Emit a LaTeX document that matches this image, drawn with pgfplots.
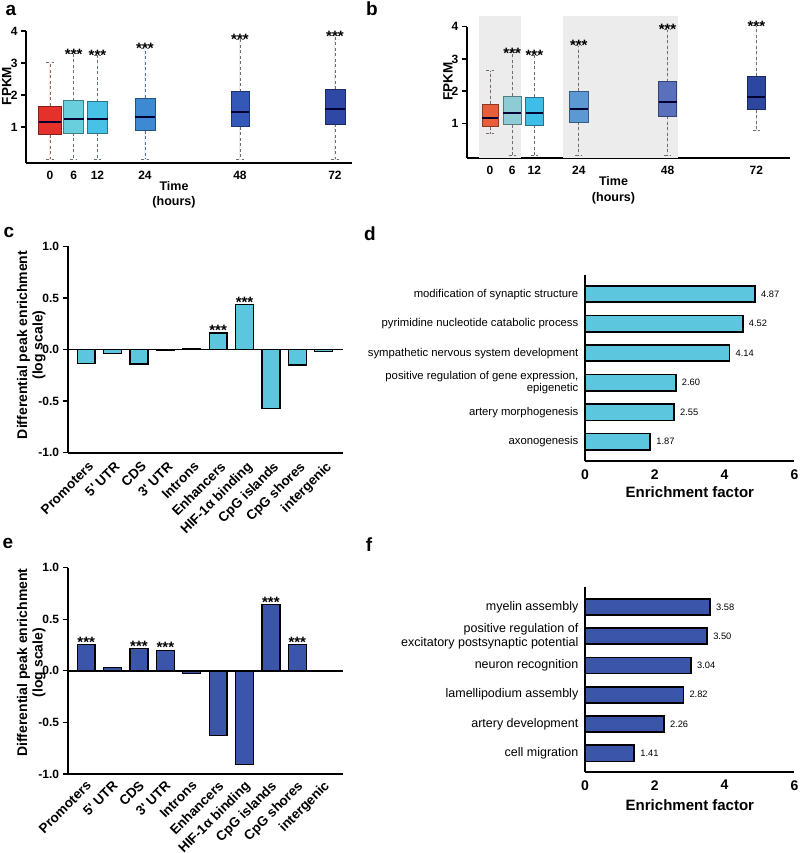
\documentclass[border=0pt]{standalone}
\usepackage{fontspec}
\setmainfont{Liberation Sans}
\usepackage{pgfplots}
\pgfplotsset{compat=1.18}
\usepgfplotslibrary{statistics}

\definecolor{aA}{HTML}{E5312B}
\definecolor{aB}{HTML}{6ACFDC}
\definecolor{aC}{HTML}{47C1E6}
\definecolor{aD}{HTML}{3D8AD2}
\definecolor{aE}{HTML}{3358B8}
\definecolor{aF}{HTML}{2F48A6}
\definecolor{bA}{HTML}{E65F3A}
\definecolor{bB}{HTML}{8ECCD5}
\definecolor{bC}{HTML}{3EBDE6}
\definecolor{bD}{HTML}{5B98D4}
\definecolor{bE}{HTML}{5A70BC}
\definecolor{bF}{HTML}{2D47A0}
\definecolor{cyanbar}{HTML}{5BC6DD}
\definecolor{bluebar}{HTML}{3A55A9}
\definecolor{bgshade}{HTML}{ECECEC}
\definecolor{whisk}{HTML}{6E6E6E}

\tikzset{stars/.style={font=\bfseries\fontsize{15}{15}\selectfont, anchor=base}}

\pgfplotsset{
  base/.style={scale only axis, axis lines=left,
    axis line style={-, line width=2pt},
    every outer x axis line/.append style={-},
    every outer y axis line/.append style={-},
    clip=false, tick style={black, line width=1.3pt},
    major tick length=5pt, tick align=outside,
    xtick style={draw=none}},
  bx/.style={fill=#1, draw=whisk, line width=0.9pt,
    boxplot/every box/.style={draw=#1!60!black, line width=0.7pt}},
  boxes/.style={base,
    boxplot/draw direction=y,
    ticklabel style={font=\bfseries\fontsize{12}{14}\selectfont},
    xtick={0,6,12,24,48,72}, xticklabels={0,6,12,24,48,72},
    ytick={1,2,3,4}, yticklabels={1,2,3,4},
    ylabel={FPKM},
    ylabel style={anchor=center, font=\bfseries\fontsize{13.5}{16}\selectfont},
    xlabel={Time\\(hours)},
    xlabel style={anchor=center, align=center, font=\bfseries\fontsize{12.5}{15.5}\selectfont},
    boxplot/every whisker/.style={dash pattern=on 3pt off 2.5pt},
    boxplot/every median/.style={draw=black!80!blue, line width=2pt, solid}},
  bars/.style={base, ybar, bar width=0.68,
    width=275pt, height=206.4pt,
    xmin=-0.7, xmax=9.72, ymin=-1, ymax=1,
    ytick={-1,-0.5,0,0.5,1}, yticklabels={-1.0,-0.5,0.0,0.5,1.0},
    yticklabel style={font=\bfseries\fontsize{12}{14}\selectfont},
    xtick={0,...,9},
    xticklabels={Promoters,5\textquotesingle{} UTR,CDS,3\textquotesingle{} UTR,Introns,Enhancers,HIF-1α binding,CpG islands,CpG shores,intergenic},
    xticklabel style={font=\bfseries\fontsize{13.5}{15}\selectfont, rotate=45, anchor=north east, inner sep=1pt},
    ylabel={Differential peak enrichment\\(log scale)},
    ylabel style={anchor=center, align=center, font=\bfseries\fontsize{14}{15.5}\selectfont}},
  hbars/.style={base, xbar, bar width=0.55,
    width=209.4pt, xmin=0, xmax=6,
    xtick={0,2,4,6}, xticklabels={0,2,4,6},
    xticklabel style={font=\bfseries\fontsize{14}{16}\selectfont},
    ytick={0,...,5}, ytick style={draw=none},
    yticklabel style={align=right, inner sep=1.5pt},
    xlabel={Enrichment factor},
    xlabel style={anchor=center, font=\bfseries\fontsize{15}{18}\selectfont}}
}

\begin{document}
\begin{tikzpicture}[x=1pt,y=1pt]
\useasboundingbox (0,0) rectangle (800,853);

% ---------------- panel a ----------------
\begin{axis}[boxes, at={(26pt,690pt)}, anchor=south west,
  width=326pt, height=132pt,
  xmin=-6.06, xmax=76.3, ymin=-0.12, ymax=4,
  ylabel style={at={(axis description cs:-0.059,0.583)}},
  xlabel style={at={(axis description cs:0.454,-0.242)}}]
\addplot[bx=aA, boxplot prepared={draw position=0, lower whisker=0, lower quartile=0.76, median=1.15, upper quartile=1.66, upper whisker=3.01, box extend=5.8, whisker extend=1.8}] coordinates {};
\addplot[bx=aB, boxplot prepared={draw position=6, lower whisker=0, lower quartile=0.82, median=1.24, upper quartile=1.82, upper whisker=3.29, box extend=5.1, whisker extend=1.8}] coordinates {};
\addplot[bx=aC, boxplot prepared={draw position=12, lower whisker=0, lower quartile=0.82, median=1.24, upper quartile=1.79, upper whisker=3.25, box extend=5.1, whisker extend=1.8}] coordinates {};
\addplot[bx=aD, boxplot prepared={draw position=24, lower whisker=0, lower quartile=0.89, median=1.31, upper quartile=1.91, upper whisker=3.45, box extend=5.1, whisker extend=1.8}] coordinates {};
\addplot[bx=aE, boxplot prepared={draw position=48, lower whisker=0, lower quartile=1.01, median=1.47, upper quartile=2.11, upper whisker=3.75, box extend=4.6, whisker extend=1.8}] coordinates {};
\addplot[bx=aF, boxplot prepared={draw position=72, lower whisker=0, lower quartile=1.10, median=1.56, upper quartile=2.18, upper whisker=3.85, box extend=5.1, whisker extend=1.8}] coordinates {};
\node[stars, yshift=-5.3pt] at (axis cs:6,3.29) {***};
\node[stars, yshift=-5.3pt] at (axis cs:12,3.25) {***};
\node[stars, yshift=-5.3pt] at (axis cs:24,3.45) {***};
\node[stars, yshift=-5.3pt] at (axis cs:48,3.75) {***};
\node[stars, yshift=-5.3pt] at (axis cs:72,3.85) {***};
\end{axis}

% ---------------- panel b ----------------
\begin{axis}[boxes, at={(466.7pt,695pt)}, anchor=south west,
  width=323.3pt, height=131.3pt,
  xmin=-6.3, xmax=81.1, ymin=-0.078, ymax=4,
  ylabel style={at={(axis description cs:-0.058,0.581)}},
  xlabel style={at={(axis description cs:0.454,-0.244)}}]
\fill[bgshade] (axis cs:-3,-0.078) rectangle (axis cs:8.3,4.34);
\fill[bgshade] (axis cs:19.6,-0.078) rectangle (axis cs:50.7,4.34);
\addplot[bx=bA, boxplot prepared={draw position=0, lower whisker=0.67, lower quartile=0.89, median=1.16, upper quartile=1.59, upper whisker=2.63, box extend=4.3, whisker extend=1.9}] coordinates {};
\addplot[bx=bB, boxplot prepared={draw position=6, lower whisker=0, lower quartile=0.96, median=1.33, upper quartile=1.85, upper whisker=3.19, box extend=4.9, whisker extend=1.9}] coordinates {};
\addplot[bx=bC, boxplot prepared={draw position=12, lower whisker=0, lower quartile=0.95, median=1.31, upper quartile=1.82, upper whisker=3.12, box extend=4.7, whisker extend=1.9}] coordinates {};
\addplot[bx=bD, boxplot prepared={draw position=24, lower whisker=0, lower quartile=1.04, median=1.43, upper quartile=1.99, upper whisker=3.41, box extend=4.9, whisker extend=1.9}] coordinates {};
\addplot[bx=bE, boxplot prepared={draw position=48, lower whisker=0, lower quartile=1.22, median=1.66, upper quartile=2.29, upper whisker=3.91, box extend=4.9, whisker extend=1.9}] coordinates {};
\addplot[bx=bF, boxplot prepared={draw position=72, lower whisker=0.77, lower quartile=1.42, median=1.83, upper quartile=2.46, upper whisker=4.03, box extend=4.9, whisker extend=1.9}] coordinates {};
\node[stars, yshift=-5.3pt] at (axis cs:6,3.19) {***};
\node[stars, yshift=-5.3pt] at (axis cs:12,3.12) {***};
\node[stars, yshift=-5.3pt] at (axis cs:24,3.41) {***};
\node[stars, yshift=-5.3pt] at (axis cs:48,3.91) {***};
\node[stars, yshift=-5.3pt] at (axis cs:72,4.03) {***};
\end{axis}

% ---------------- panel c ----------------
\begin{axis}[bars, at={(67.7pt,400.3pt)}, anchor=south west,
  xticklabel style={yshift=-2pt},
  ylabel style={at={(axis description cs:-0.132,0.522)}}]
\addplot[fill=cyanbar, draw=black, line width=1.3pt] coordinates {
 (0,-0.135) (1,-0.04) (2,-0.14) (3,-0.01) (4,0.013) (5,0.16) (6,0.435) (7,-0.57) (8,-0.15) (9,-0.02)};
\draw[line width=1.8pt] (axis cs:-0.7,0) -- (axis cs:9.72,0);
\node[stars, yshift=-2.8pt] at (axis cs:5,0.16) {***};
\node[stars, yshift=-2.8pt] at (axis cs:6,0.435) {***};
\end{axis}

% ---------------- panel e ----------------
\begin{axis}[bars, at={(67.7pt,79pt)}, anchor=south west,
  xticklabel style={yshift=1pt},
  ylabel style={at={(axis description cs:-0.132,0.54)}}]
\addplot[fill=bluebar, draw=black, line width=1.3pt] coordinates {
 (0,0.255) (1,0.035) (2,0.213) (3,0.20) (4,-0.023) (5,-0.63) (6,-0.906) (7,0.645) (8,0.255) (9,0)};
\draw[line width=1.8pt] (axis cs:-0.7,0) -- (axis cs:9.72,0);
\node[stars, yshift=-2.8pt] at (axis cs:0,0.255) {***};
\node[stars, yshift=-2.8pt] at (axis cs:2,0.213) {***};
\node[stars, yshift=-2.8pt] at (axis cs:3,0.20) {***};
\node[stars, yshift=-2.8pt] at (axis cs:7,0.645) {***};
\node[stars, yshift=-2.8pt] at (axis cs:8,0.255) {***};
\end{axis}

% ---------------- panel d ----------------
\begin{axis}[hbars, at={(585pt,392pt)}, anchor=south west,
  height=186pt, ymin=-0.654, ymax=5.65,
  yticklabels={{axonogenesis},{artery morphogenesis},{positive regulation of gene expression,\\epigenetic},{sympathetic nervous system development},{pyrimidine nucleotide catabolic process},{modification of synaptic structure}},
  yticklabel style={font=\fontsize{11.3}{12.3}\selectfont},
  xlabel style={at={(axis description cs:0.501,-0.165)}}]
\addplot[fill=cyanbar, draw=black, line width=1.6pt, point meta=explicit symbolic,
  nodes near coords, nodes near coords style={font=\fontsize{9.3}{11}\selectfont, anchor=west, xshift=2pt}]
  coordinates {(1.87,0)[1.87] (2.55,1)[2.55] (2.60,2)[2.60] (4.14,3)[4.14] (4.52,4)[4.52] (4.87,5)[4.87]};
\end{axis}

% ---------------- panel f ----------------
\begin{axis}[hbars, at={(585pt,81.3pt)}, anchor=south west,
  height=184.4pt, ymin=-0.628, ymax=5.67,
  yticklabels={{cell migration},{artery development},{lamellipodium assembly},{neuron recognition},{positive regulation of\\excitatory postsynaptic potential},{myelin assembly}},
  yticklabel style={font=\fontsize{12.5}{14.4}\selectfont},
  xlabel style={at={(axis description cs:0.501,-0.182)}}]
\addplot[fill=bluebar, draw=black, line width=1.6pt, point meta=explicit symbolic,
  nodes near coords, nodes near coords style={font=\fontsize{9.3}{11}\selectfont, anchor=west, xshift=2pt}]
  coordinates {(1.41,0)[1.41] (2.26,1)[2.26] (2.82,2)[2.82] (3.04,3)[3.04] (3.50,4)[3.50] (3.58,5)[3.58]};
\end{axis}

% panel letters
\begin{scope}[every node/.style={font=\bfseries\fontsize{19}{22}\selectfont, inner sep=0pt}]
\node at (11,843) {a};
\node at (372,844) {b};
\node at (9,621) {c};
\node at (370,619) {d};
\node at (8,310) {e};
\node at (369,308) {f};
\end{scope}
\end{tikzpicture}
\end{document}
